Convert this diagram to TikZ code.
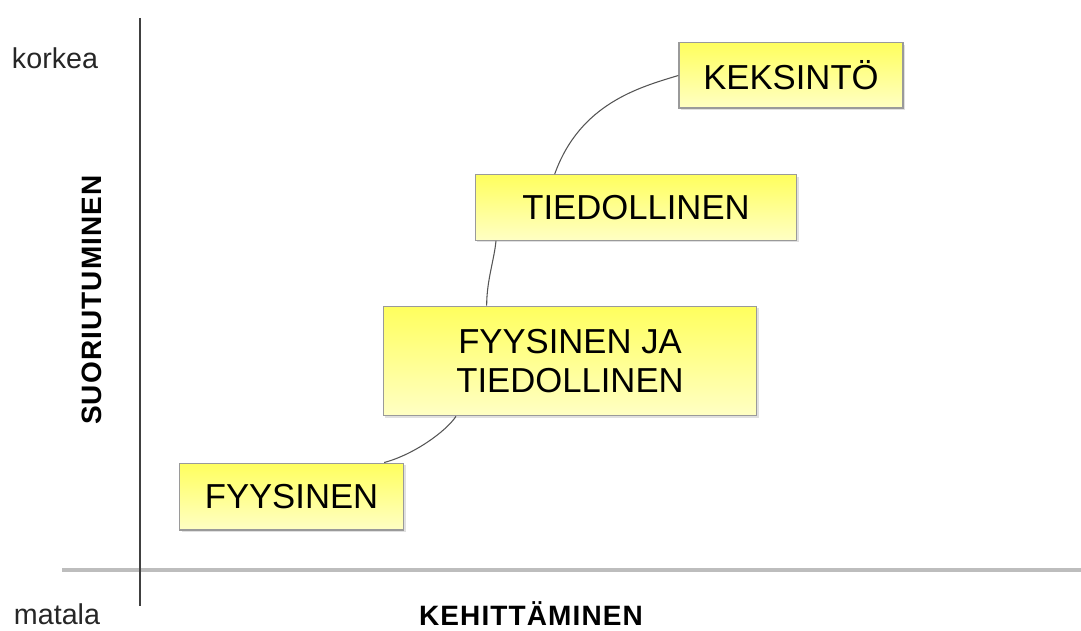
\documentclass[tikz,border=0pt]{standalone}
\usepackage{fontspec}
\setmainfont{Liberation Sans}
\newfontfamily\spacedbold[LetterSpace=4]{Liberation Sans Bold}
\usetikzlibrary{shadows}
\definecolor{boxtop}{HTML}{FFFF5E}
\definecolor{boxbot}{HTML}{FFFFC4}
\definecolor{boxline}{HTML}{9A9A9A}
\definecolor{axisgray}{HTML}{BDBDBD}
\definecolor{linkgray}{HTML}{555555}
\tikzset{
  stage/.style={draw=boxline, line width=1pt, top color=boxtop, bottom color=boxbot,
    align=center, font=\fontsize{26}{29}\selectfont, inner sep=0pt,
    drop shadow={shadow xshift=1.5pt, shadow yshift=-1.5pt, fill=black, opacity=0.12}},
  link/.style={draw=linkgray, line width=0.8pt},
  endlabel/.style={font=\fontsize{21.5}{24}\selectfont, text=black!85, inner sep=0pt},
  axislabel/.style={font=\spacedbold\fontsize{21}{24}\selectfont, inner sep=0pt}
}
\begin{document}
\begin{tikzpicture}[x=0.75pt, y=-0.75pt]
  \useasboundingbox (0,0) rectangle (1081,631);
  % axes
  \draw[axisgray, line width=2.4pt] (62,570) -- (1081,570);
  \draw[black!75, line width=1pt] (140,18) -- (140,606);
  % axis labels
  \node[endlabel] (hi) at (55,58) {korkea};
  \node[endlabel] (lo) at (57,614) {matala};
  \node[axislabel, rotate=90] (yl) at (92,300) {SUORIUTUMINEN};
  \node[axislabel] (xl) at (531,614) {KEHITTÄMINEN};
  % stages
  \node[stage, minimum width=168pt, minimum height=50pt] (s1) at (291.5,496.5) {FYYSINEN};
  \node[stage, minimum width=280pt, minimum height=82pt] (s2) at (570,361) {FYYSINEN JA\\TIEDOLLINEN};
  \node[stage, minimum width=241pt, minimum height=49pt] (s3) at (636,207.5) {TIEDOLLINEN};
  \node[stage, minimum width=168pt, minimum height=49pt] (s4) at (791,75.5) {KEKSINTÖ};
  % links between stages
  \coordinate (a1) at ([xshift=-15pt]s1.north east);
  \coordinate (a2) at ([xshift=-226pt]s2.south east);
  \draw[link] (a1) .. controls ++(30,-8) and ++(-10,15) .. (a2);
  \coordinate (b1) at ([xshift=78pt]s2.north west);
  \coordinate (b2) at ([xshift=16pt]s3.south west);
  \draw[link] (b1) .. controls ++(0,-25) and ++(-2,20) .. (b2);
  \coordinate (c1) at ([xshift=60pt]s3.north west);
  \draw[link] (c1) .. controls ++(25,-70) and ++(-40,12) .. (s4.west);
\end{tikzpicture}
\end{document}
